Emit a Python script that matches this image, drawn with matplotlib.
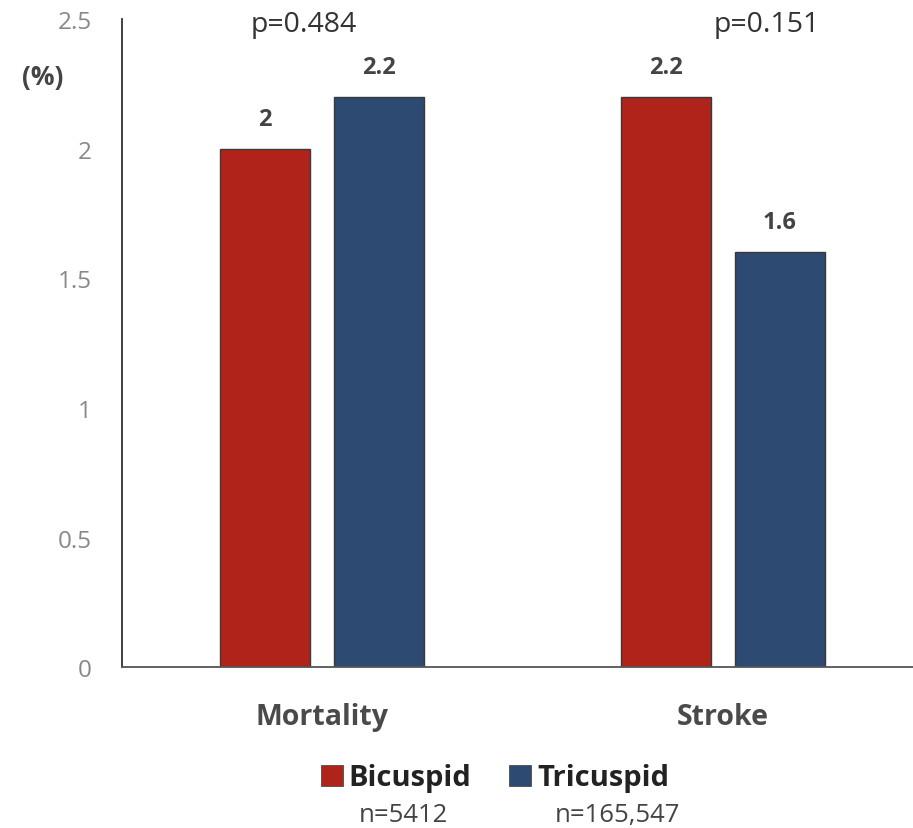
import matplotlib

matplotlib.use("Agg")
import matplotlib.pyplot as plt
import numpy as np
from matplotlib.patches import Patch

# Data
CATEGORIES = ["Mortality", "Stroke"]
GROUPS = ["Bicuspid", "Tricuspid"]
GROUP_N = ["n=5412", "n=165,547"]
BICUSPID = [2.0, 2.2]
TRICUSPID = [2.2, 1.6]
VALUE_LABELS = [["2", "2.2"], ["2.2", "1.6"]]
P_VALUES = ["p=0.484", "p=0.151"]
YTICKS = [0, 0.5, 1, 1.5, 2, 2.5]
YTICK_LABELS = ["0", "0.5", "1", "1.5", "2", "2.5"]

COLORS = {"Bicuspid": "#B0231A", "Tricuspid": "#2D4A72"}

plt.rcParams["font.family"] = ["Open Sans", "DejaVu Sans"]

fig = plt.figure(figsize=(9.13, 8.29), dpi=100)
ax = fig.add_axes([0.1336, 0.194, 0.8664, 0.782])

x = np.arange(len(CATEGORIES))
width = 0.224
offset = 0.142
series = [BICUSPID, TRICUSPID]
for i, (g, vals) in enumerate(zip(GROUPS, series)):
    pos = x + (-offset if i == 0 else offset)
    ax.bar(pos, vals, width, color=COLORS[g], edgecolor="#3a3a3a", linewidth=1.0)
    for j, (p, v) in enumerate(zip(pos, vals)):
        ax.text(p, v + 0.115, VALUE_LABELS[j][i], ha="center", va="center",
                fontsize=17, fontweight="bold", color="#444444")

# p-values above each group
p_x = [-0.045, 1.11]
for px, pv in zip(p_x, P_VALUES):
    ax.text(px, 2.48, pv, ha="center", va="center", fontsize=20.5, color="#333333")

ax.set_xlim(-0.499, 1.474)
ax.set_ylim(0, 2.5)
ax.set_yticks(YTICKS)
ax.set_yticklabels(YTICK_LABELS)
ax.set_xticks(x)
ax.set_xticklabels(CATEGORIES, fontsize=20.5, fontweight="bold", color="#4a4a4a")
ax.tick_params(axis="y", length=0, labelsize=17.5, labelcolor="#888888", pad=22)
ax.tick_params(axis="x", length=0, pad=25)
for side in ["top", "right"]:
    ax.spines[side].set_visible(False)
ax.spines["left"].set_color("#333333")
ax.spines["bottom"].set_color("#555555")
ax.spines["left"].set_linewidth(1.3)
ax.spines["bottom"].set_linewidth(1.3)

fig.text(43 / 913, 1 - 77 / 829, "(%)", ha="center", va="center", fontsize=19,
         fontweight="bold", color="#444444")

handles = [Patch(facecolor=COLORS[g], edgecolor="#3a3a3a", linewidth=0.5) for g in GROUPS]
leg = fig.legend(handles, GROUPS, loc="center", bbox_to_anchor=(495 / 913, 1 - 779 / 829),
                 ncol=2, frameon=False, handlelength=0.75, handleheight=0.75,
                 handletextpad=0.2, columnspacing=1.3,
                 prop={"size": 21, "weight": "bold"})
for t in leg.get_texts():
    t.set_color("#222222")

n_x = [403 / 913, 617 / 913]
for nx, n in zip(n_x, GROUP_N):
    fig.text(nx, 1 - 816 / 829, n, ha="center", va="center", fontsize=18.5, color="#444444")

fig.savefig("out.png", dpi=100)
